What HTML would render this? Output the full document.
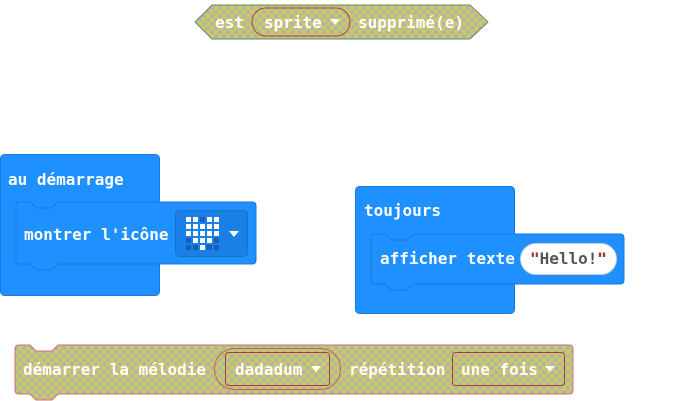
<!DOCTYPE html>
<html><head><meta charset="utf-8"><style>
html,body{margin:0;padding:0;background:#fff;width:676px;height:401px;overflow:hidden}
text{font-family:"DejaVu Sans Mono","Liberation Mono",monospace;font-size:16px;font-weight:bold;fill:#fff}
</style></head><body>
<svg width="676" height="401" viewBox="0 0 676 401" xmlns="http://www.w3.org/2000/svg">
<defs>
<pattern id="h" width="8" height="8" patternUnits="userSpaceOnUse">
<rect width="8" height="8" fill="#b4b4a4"/>
<path d="M0,0 L8,8 M8,0 L0,8" stroke="#d6d24a" stroke-width="1.2"/>
</pattern>
</defs>
<polygon points="195,22 212,5 470,5 488,22 470,39 212,39" fill="url(#h)" stroke="#5e8a6a" stroke-width="1"/>
<text x="215" y="28">est</text>
<rect x="252" y="8" width="98" height="28" rx="14" fill="url(#h)" stroke="#b04040"/>
<text x="264" y="28">sprite</text>
<polygon points="330,19 340,19 335,25" fill="#fff"/>
<text x="358" y="28">supprimé(e)</text>

<rect x="0.5" y="154.5" width="159" height="141" rx="4" fill="#1e90ff" stroke="#1a78d8"/>
<text x="8" y="185">au démarrage</text>
<path d="M20,202 L30,202 L36,208 L52,208 L58,202 L252,202 Q256,202 256,206 L256,260 Q256,264 252,264 L58,264 L52,270 L36,270 L30,264 L20,264 Q16,264 16,260 L16,206 Q16,202 20,202 Z" fill="#1e90ff" stroke="#1a78d8"/>
<text x="24" y="240">montrer l'icône</text>
<rect x="175.5" y="210.5" width="72" height="46" rx="4" fill="#1b80e6" stroke="#1670cc"/>
<g fill="#fff">
<rect x="186" y="217" width="5" height="5"/><rect x="193" y="217" width="5" height="5"/><rect x="207" y="217" width="5" height="5"/><rect x="214" y="217" width="5" height="5"/>
<rect x="186" y="224" width="5" height="5"/><rect x="193" y="224" width="5" height="5"/><rect x="200" y="224" width="5" height="5"/><rect x="207" y="224" width="5" height="5"/><rect x="214" y="224" width="5" height="5"/>
<rect x="186" y="231" width="5" height="5"/><rect x="193" y="231" width="5" height="5"/><rect x="200" y="231" width="5" height="5"/><rect x="207" y="231" width="5" height="5"/><rect x="214" y="231" width="5" height="5"/>
<rect x="193" y="238" width="5" height="5"/><rect x="200" y="238" width="5" height="5"/><rect x="207" y="238" width="5" height="5"/>
<rect x="200" y="245" width="5" height="5"/>
</g>
<g fill="#1560b8">
<rect x="200" y="217" width="5" height="5"/><rect x="186" y="238" width="5" height="5"/><rect x="214" y="238" width="5" height="5"/>
<rect x="186" y="245" width="5" height="5"/><rect x="193" y="245" width="5" height="5"/><rect x="207" y="245" width="5" height="5"/><rect x="214" y="245" width="5" height="5"/>
</g>
<polygon points="229,231 239,231 234,237" fill="#fff"/>

<rect x="355.5" y="186.5" width="159" height="127" rx="4" fill="#1e90ff" stroke="#1a78d8"/>
<text x="364" y="216">toujours</text>
<path d="M375,234 L385,234 L391,240 L407,240 L413,234 L620,234 Q624,234 624,238 L624,280 Q624,284 620,284 L413,284 L407,290 L391,290 L385,284 L375,284 Q371,284 371,280 L371,238 Q371,234 375,234 Z" fill="#1e90ff" stroke="#1a78d8"/>
<text x="380" y="264">afficher texte</text>
<rect x="520.5" y="243.5" width="96" height="31" rx="15.5" fill="#fff" stroke="#ccc"/>
<text x="530" y="264" style="fill:#555">"Hello!"</text>
<text x="530" y="264" style="fill:#b03030">"</text>
<text x="597" y="264" style="fill:#b03030">"</text>

<path d="M19,345 L30,345 L36,351 L52,351 L58,345 L569,345 Q573,345 573,349 L573,390 Q573,394 569,394 L58,394 L52,400 L36,400 L30,394 L19,394 Q15,394 15,390 L15,349 Q15,345 19,345 Z" fill="url(#h)" stroke="#c87070"/>
<text x="23" y="375">démarrer la mélodie</text>
<rect x="214.5" y="348.5" width="126" height="41" rx="20" fill="url(#h)" stroke="#c06060"/>
<rect x="225.5" y="352.5" width="104" height="33" rx="3" fill="url(#h)" stroke="#a84040"/>
<text x="235" y="375">dadadum</text>
<polygon points="311,366 321,366 316,372" fill="#fff"/>
<text x="349" y="375">répétition</text>
<rect x="452.5" y="352.5" width="112" height="33" rx="3" fill="url(#h)" stroke="#a84040"/>
<text x="461" y="375">une fois</text>
<polygon points="545,366 555,366 550,372" fill="#fff"/>
</svg>
</body></html>
